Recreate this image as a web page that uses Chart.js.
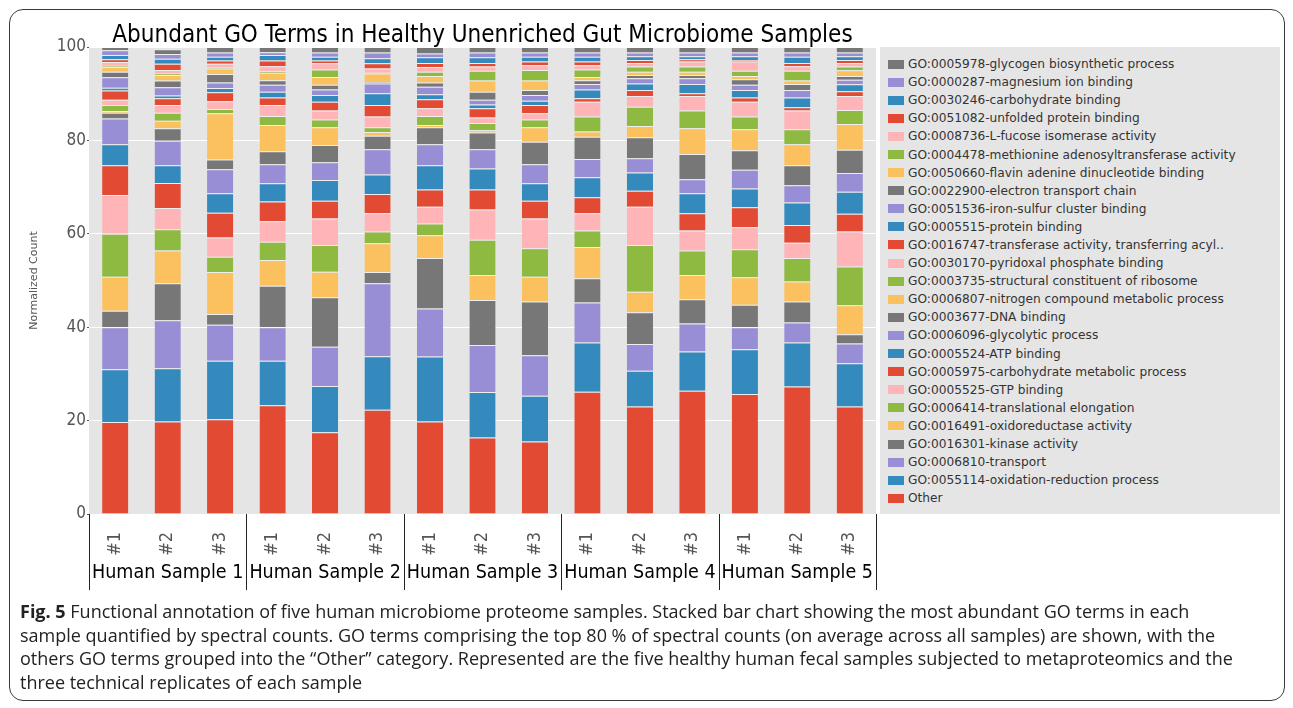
<!DOCTYPE html>
<html>
<head>
<meta charset="utf-8">
<script src="https://cdn.jsdelivr.net/npm/chart.js@4.4.1/dist/chart.umd.min.js"></script>
<style>
  html, body { margin: 0; padding: 0; background: #fff; }
  body { width: 1293px; height: 708px; position: relative; overflow: hidden; font-family: "DejaVu Sans", sans-serif; }
  #frame { position: absolute; left: 9px; top: 9px; width: 1274px; height: 690px; border: 1.5px solid #3a3a3a; border-radius: 14px; }
  #chart { position: absolute; left: 0; top: 0; }
  #legend { position: absolute; left: 880px; top: 47px; width: 400px; height: 467px; background: #e5e5e5; box-sizing: border-box; padding-top: 8px; }
  .row { height: 18.1px; display: flex; align-items: center; font-size: 12.2px; color: #333; white-space: nowrap; }
  .patch { width: 16px; height: 9px; margin-left: 8px; margin-right: 4px; }
  #caption { position: absolute; left: 20px; top: 600px; font-family: "Open Sans", "Liberation Sans", sans-serif; font-size: 18px; line-height: 23.7px; color: #222; white-space: nowrap; }
</style>
</head>
<body>
<div id="frame"></div>
<canvas id="chart" width="1293" height="600"></canvas>
<div id="legend"></div>
<div id="caption">
  <div><b>Fig. 5</b> Functional annotation of five human microbiome proteome samples. Stacked bar chart showing the most abundant GO terms in each</div>
  <div>sample quantified by spectral counts. GO terms comprising the top 80 % of spectral counts (on average across all samples) are shown, with the</div>
  <div>others GO terms grouped into the “Other” category. Represented are the five healthy human fecal samples subjected to metaproteomics and the</div>
  <div>three technical replicates of each sample</div>
</div>
<script>
const replicates = ["#1", "#2", "#3", "#1", "#2", "#3", "#1", "#2", "#3", "#1", "#2", "#3", "#1", "#2", "#3"];
const sampleNames = ["Human Sample 1", "Human Sample 2", "Human Sample 3", "Human Sample 4", "Human Sample 5"];
const yTicks = [0, 20, 40, 60, 80, 100];
const palette = ["#E24A33", "#348ABD", "#988ED5", "#777777", "#FBC15E", "#8EBA42", "#FFB5B8"];
const condensed = '"DejaVu Sans Condensed", "DejaVu Sans"';

// stacking order, bottom to top
const goTerms = [
  "Other",
  "GO:0055114-oxidation-reduction process",
  "GO:0006810-transport",
  "GO:0016301-kinase activity",
  "GO:0016491-oxidoreductase activity",
  "GO:0006414-translational elongation",
  "GO:0005525-GTP binding",
  "GO:0005975-carbohydrate metabolic process",
  "GO:0005524-ATP binding",
  "GO:0006096-glycolytic process",
  "GO:0003677-DNA binding",
  "GO:0006807-nitrogen compound metabolic process",
  "GO:0003735-structural constituent of ribosome",
  "GO:0030170-pyridoxal phosphate binding",
  "GO:0016747-transferase activity, transferring acyl..",
  "GO:0005515-protein binding",
  "GO:0051536-iron-sulfur cluster binding",
  "GO:0022900-electron transport chain",
  "GO:0050660-flavin adenine dinucleotide binding",
  "GO:0004478-methionine adenosyltransferase activity",
  "GO:0008736-L-fucose isomerase activity",
  "GO:0051082-unfolded protein binding",
  "GO:0030246-carbohydrate binding",
  "GO:0000287-magnesium ion binding",
  "GO:0005978-glycogen biosynthetic process"
];

const other        = [19.7, 19.8, 20.3, 23.3, 17.5, 22.3, 19.8, 16.4, 15.5, 26.2, 23.0, 26.4, 25.7, 27.3, 23.0];
const oxidationRed = [11.3, 11.4, 12.5, 9.5, 9.9, 11.5, 13.9, 9.7, 9.8, 10.5, 7.7, 8.4, 9.6, 9.4, 9.3];
const transport    = [9.0, 10.3, 7.7, 7.2, 8.4, 15.6, 10.3, 10.1, 8.7, 8.6, 5.7, 6.0, 4.7, 4.3, 4.2];
const kinase       = [3.5, 7.9, 2.3, 8.9, 10.6, 2.4, 10.8, 9.6, 11.5, 5.2, 6.8, 5.2, 4.8, 4.5, 2.0];
const oxidoreduct  = [7.3, 7.0, 9.0, 5.5, 5.5, 6.2, 4.9, 5.4, 5.3, 6.7, 4.4, 5.2, 5.9, 4.3, 6.2];
const translElong  = [9.2, 4.6, 3.3, 3.9, 5.7, 2.5, 2.5, 7.5, 6.1, 3.5, 10.0, 5.2, 6.0, 5.0, 8.3];
const gtpBinding   = [8.3, 4.5, 4.1, 4.4, 5.7, 3.9, 3.6, 6.5, 6.4, 3.7, 8.2, 4.3, 4.7, 3.3, 7.5];
const carbMetab    = [6.4, 5.4, 5.3, 4.2, 3.8, 4.1, 3.7, 4.3, 3.8, 3.4, 3.4, 3.7, 4.3, 3.8, 3.8];
const atpBinding   = [4.5, 3.8, 4.2, 3.9, 4.4, 4.2, 5.2, 4.5, 3.7, 4.3, 3.9, 4.3, 4.0, 4.8, 4.7];
const glycolytic   = [5.5, 5.2, 5.1, 4.1, 3.8, 5.4, 4.5, 4.1, 4.1, 3.9, 3.1, 3.0, 4.0, 3.7, 4.0];
const dnaBinding   = [1.2, 2.7, 2.1, 2.8, 3.7, 2.9, 3.6, 3.6, 4.8, 4.8, 4.5, 5.4, 4.2, 4.3, 5.0];
const nitrogen     = [0.4, 1.6, 9.9, 5.6, 3.8, 0.8, 0.5, 0.5, 3.1, 1.1, 2.4, 5.5, 4.5, 4.5, 5.5];
const ribosome     = [1.3, 1.7, 0.9, 1.9, 1.7, 1.0, 1.9, 1.5, 1.7, 3.2, 4.1, 3.8, 2.7, 3.2, 3.0];
const pyridoxal    = [1.1, 1.7, 1.7, 2.4, 1.9, 2.3, 1.7, 1.2, 1.3, 3.2, 2.3, 3.1, 3.2, 4.0, 3.0];
const transferase  = [2.0, 1.4, 1.9, 1.6, 1.9, 2.5, 1.9, 2.0, 1.8, 0.7, 1.3, 0.6, 0.9, 0.7, 1.0];
const proteinBind  = [0.6, 0.6, 0.9, 1.2, 1.4, 2.5, 1.1, 0.8, 0.9, 1.9, 1.4, 2.0, 1.6, 2.1, 1.5];
const ironSulfur   = [2.2, 1.8, 1.2, 1.5, 1.2, 2.1, 1.6, 1.0, 1.2, 1.2, 1.1, 1.2, 1.1, 1.6, 1.0];
const electronTr   = [1.2, 1.4, 1.8, 1.0, 1.0, 0.3, 0.9, 1.7, 1.1, 0.8, 0.7, 0.7, 1.2, 1.3, 0.8];
const flavin       = [1.0, 1.2, 1.2, 1.6, 1.7, 1.8, 1.4, 2.4, 2.0, 0.7, 0.7, 0.7, 0.7, 0.7, 1.2];
const methionine   = [0.3, 0.3, 0.2, 0.3, 1.6, 0.2, 0.9, 2.1, 2.3, 1.6, 1.1, 1.1, 1.1, 2.1, 0.8];
const fucose       = [0.8, 0.8, 0.8, 1.1, 1.3, 0.9, 1.0, 0.9, 1.0, 0.9, 0.8, 1.1, 2.0, 1.0, 0.8];
const unfolded     = [0.6, 1.3, 0.7, 1.2, 0.6, 1.1, 0.9, 0.8, 0.8, 0.8, 0.6, 0.5, 0.3, 0.7, 0.6];
const carbBinding  = [0.9, 1.1, 0.8, 1.2, 0.8, 1.1, 1.2, 1.2, 1.0, 1.0, 0.8, 0.6, 0.8, 1.3, 0.8];
const magnesium    = [1.0, 1.0, 0.9, 0.6, 0.9, 1.2, 0.8, 1.0, 0.9, 0.9, 0.8, 0.8, 0.8, 0.9, 0.8];
const glycogen     = [0.7, 1.0, 1.2, 1.1, 1.2, 1.2, 1.4, 1.2, 1.2, 1.2, 1.2, 1.2, 1.2, 1.2, 1.2];

const seriesValues = [other, oxidationRed, transport, kinase, oxidoreduct, translElong, gtpBinding,
  carbMetab, atpBinding, glycolytic, dnaBinding, nitrogen, ribosome, pyridoxal, transferase,
  proteinBind, ironSulfur, electronTr, flavin, methionine, fucose, unfolded, carbBinding, magnesium, glycogen];

const datasets = goTerms.map((name, i) => ({
  label: name,
  data: seriesValues[i],
  backgroundColor: palette[i % palette.length],
  borderColor: 'rgba(255,255,255,0.35)',
  borderWidth: { top: 1, bottom: 0, left: 0, right: 0 },
  borderSkipped: false,
  barPercentage: 0.5,
  categoryPercentage: 1.0
}));

// legend, top entry = top of stack
const legendEl = document.getElementById('legend');
for (let i = goTerms.length - 1; i >= 0; i--) {
  const row = document.createElement('div');
  row.className = 'row';
  row.innerHTML = `<span class="patch" style="background:${palette[i % palette.length]}"></span>${goTerms[i]}`;
  legendEl.appendChild(row);
}

const decorations = {
  id: 'decorations',
  beforeDraw(chart) {
    const {ctx, chartArea: a} = chart;
    ctx.save();
    ctx.fillStyle = '#e5e5e5';
    ctx.fillRect(a.left, a.top, a.right - a.left, a.bottom - a.top);
    ctx.restore();
  },
  afterDraw(chart) {
    const {ctx, chartArea: a} = chart;
    const x = chart.scales.x;
    const step = x.getPixelForValue(1) - x.getPixelForValue(0);
    ctx.save();
    // title centred on the plot
    ctx.fillStyle = '#000';
    ctx.font = '24px ' + condensed;
    ctx.textAlign = 'center';
    ctx.textBaseline = 'middle';
    ctx.fillText('Abundant GO Terms in Healthy Unenriched Gut Microbiome Samples', (a.left + a.right) / 2, 36);
    // group separators and sample names
    ctx.strokeStyle = '#222';
    ctx.lineWidth = 1;
    for (let g = 0; g <= sampleNames.length; g++) {
      const px = Math.round(x.getPixelForValue(g * 3) - step / 2) + 0.5;
      ctx.beginPath();
      ctx.moveTo(px, a.bottom);
      ctx.lineTo(px, 590);
      ctx.stroke();
    }
    ctx.font = '19.5px ' + condensed;
    sampleNames.forEach((s, g) => {
      ctx.fillText(s, x.getPixelForValue(g * 3 + 1), 573);
    });
    ctx.restore();
  }
};

new Chart(document.getElementById('chart'), {
  type: 'bar',
  data: { labels: replicates, datasets: datasets },
  options: {
    responsive: false,
    animation: false,
    layout: { padding: { left: 0, right: 417, top: 47, bottom: 0 } },
    plugins: { legend: { display: false }, title: { display: false }, tooltip: { enabled: false } },
    scales: {
      x: {
        stacked: true,
        grid: { display: false },
        border: { display: false },
        ticks: {
          color: '#555',
          font: { family: condensed, size: 18 },
          minRotation: 90,
          maxRotation: 90,
          padding: 10,
          autoSkip: false
        },
        afterFit: s => { s.height = 86; }
      },
      y: {
        stacked: true,
        min: 0,
        max: 100,
        afterBuildTicks: s => { s.ticks = yTicks.map(v => ({ value: v })); },
        grid: { color: '#ffffff', lineWidth: 1, tickColor: '#555', tickLength: 2 },
        border: { display: false },
        ticks: { color: '#555', font: { family: condensed, size: 17 }, padding: 1 },
        title: {
          display: true,
          text: 'Normalized Count',
          color: '#555',
          font: { family: 'DejaVu Sans', size: 11 },
          padding: { top: 28 }
        },
        afterFit: s => { s.width = 89; }
      }
    }
  },
  plugins: [decorations]
});
</script>
</body>
</html>
